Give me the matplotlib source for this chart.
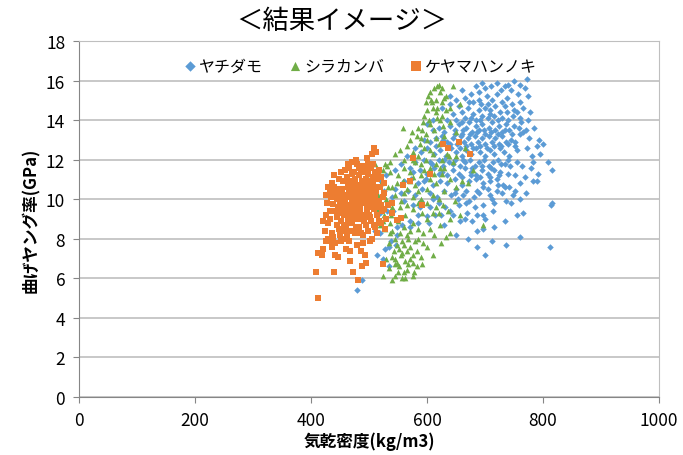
import matplotlib
matplotlib.use('Agg')
import matplotlib.pyplot as plt
import numpy as np

plt.rcParams['font.family'] = ['Noto Sans CJK JP', 'DejaVu Sans']

# (気乾密度 kg/m3, 曲げヤング率 GPa)
yachidamo = [
    (479, 5.4), (488, 5.9), (514, 7.2), (524, 7.0), (535, 6.6), (528, 7.5), (535, 7.6), (547, 7.7),
    (538, 7.9), (548, 8.2), (557, 8.7), (571, 8.9), (603, 8.8), (614, 9.2), (624, 9.2), (640, 9.4),
    (648, 10.3), (588, 9.6), (576, 9.7), (541, 9.4), (531, 9.4), (519, 9.3), (510, 8.4), (519, 8.3),
    (548, 8.6), (571, 8.6), (584, 8.8), (600, 9.15), (631, 9.6), (645, 9.2), (657, 8.9), (678, 8.9),
    (686, 9.2), (686, 8.4), (696, 8.5), (716, 8.6), (686, 7.6), (712, 7.9), (736, 7.7), (812, 7.6),
    (766, 9.3), (755, 9.2), (714, 9.4), (696, 9.2), (669, 9.3), (667, 9.8), (683, 9.6), (672, 9.9),
    (655, 9.7), (620, 9.8), (610, 10.0), (590, 9.9), (560, 9.9), (540, 10.1), (525, 10.4), (520, 10.9),
    (530, 11.2), (545, 11.5), (555, 11.8), (565, 12.2),
    (545, 10.5), (555, 10.3), (568, 10.4), (580, 10.2), (592, 10.5), (605, 10.3), (618, 10.1), (630, 10.4),
    (642, 10.2), (653, 10.0), (662, 10.2), (681, 10.1), (686, 10.4), (697, 10.6), (709, 10.2), (712, 10.0),
    (729, 10.3), (752, 10.4), (748, 10.2), (736, 9.9), (716, 9.8), (697, 9.7), (815, 9.8), (813, 9.7),
    (560, 10.9), (572, 11.0), (585, 10.8), (598, 11.0), (610, 10.7), (622, 10.9), (635, 10.8), (648, 11.0),
    (660, 10.7), (672, 10.9), (684, 11.0), (696, 10.8), (708, 10.9), (720, 11.0), (783, 10.9), (790, 10.9),
    (741, 10.6), (731, 10.7), (723, 10.7),
    (575, 11.4), (588, 11.5), (600, 11.3), (612, 11.6), (625, 11.4), (635, 11.2), (645, 11.5), (655, 11.3),
    (665, 11.6), (675, 11.4), (685, 11.2), (695, 11.5), (705, 11.3), (715, 11.5), (725, 11.4), (815, 11.5),
    (791, 11.3), (752, 11.2), (769, 11.1),
    (580, 11.9), (595, 12.0), (608, 11.8), (620, 12.0), (628, 11.7), (638, 11.9), (648, 12.0), (656, 11.7),
    (665, 11.9), (674, 12.0), (682, 11.7), (690, 11.9), (698, 12.0), (706, 11.7), (714, 11.9), (722, 12.0),
    (735, 11.8), (783, 11.9), (809, 11.9), (755, 11.9), (743, 11.7), (764, 11.7),
    (590, 12.4), (600, 12.6), (612, 12.3), (622, 12.5), (632, 12.2), (642, 12.6), (650, 12.4), (660, 12.2),
    (668, 12.5), (676, 12.3), (685, 12.6), (692, 12.4), (700, 12.2), (708, 12.5), (716, 12.3), (725, 12.6),
    (733, 12.4), (742, 12.2), (781, 12.2), (755, 12.5),
    (595, 13.0), (605, 12.9), (615, 13.1), (625, 13.2), (635, 12.9), (645, 13.1), (652, 12.8), (658, 13.2),
    (664, 12.9), (670, 13.1), (676, 12.8), (682, 13.2), (688, 12.9), (694, 13.1), (700, 12.8), (706, 13.2),
    (712, 12.9), (718, 13.1), (724, 12.8), (730, 13.2), (736, 12.9), (745, 13.0), (760, 13.3), (776, 13.1),
    (793, 13.0), (752, 12.9), (772, 12.6), (790, 12.7),
    (620, 13.6), (630, 13.4), (640, 13.7), (648, 13.5), (655, 13.8), (660, 13.3), (668, 13.6), (672, 13.9),
    (678, 13.4), (684, 13.7), (690, 13.5), (695, 13.8), (700, 13.3), (706, 13.6), (712, 13.9), (718, 13.5),
    (724, 13.7), (730, 13.4), (736, 13.8), (742, 13.5), (750, 13.7), (758, 13.6), (765, 13.4), (610, 13.5),
    (600, 13.8),
    (717, 14.7), (709, 14.5), (766, 14.6), (738, 14.4), (748, 14.2), (774, 14.0), (660, 14.4), (670, 14.6),
    (680, 14.3), (690, 14.5), (695, 14.2), (700, 14.6), (725, 14.4), (730, 14.1), (755, 14.4), (645, 14.3),
    (635, 14.0), (650, 14.0), (665, 14.1), (685, 14.0), (705, 14.1), (715, 14.2), (740, 14.0), (760, 14.1),
    (703, 15.2), (720, 15.3), (774, 15.2), (729, 14.9), (747, 14.8), (760, 14.9), (690, 15.0), (680, 14.9),
    (665, 15.1), (655, 14.7), (712, 15.0), (738, 15.1),
    (710, 15.7), (734, 15.7), (740, 15.8), (760, 15.8), (769, 15.6), (772, 16.1), (745, 15.5), (700, 15.6),
    (690, 15.4),
    (640, 12.8), (648, 13.3), (656, 12.6), (662, 13.5), (668, 12.7), (674, 13.3), (680, 12.6), (686, 13.4),
    (692, 12.7), (698, 13.5), (704, 12.6), (710, 13.4), (716, 12.7), (722, 13.3), (728, 12.7), (734, 13.5),
    (740, 12.8), (746, 13.3), (752, 12.7), (640, 14.8), (650, 15.0), (675, 15.3), (685, 15.7), (695, 15.9),
    (720, 15.9), (750, 16.0), (757, 15.3), (728, 15.5), (705, 14.8), (693, 14.8), (672, 14.9), (660, 13.9),
    (676, 14.1), (692, 14.0), (708, 14.3), (722, 14.0), (735, 14.7), (750, 14.5), (762, 13.9), (770, 13.5),
    (630, 12.0), (645, 11.8), (662, 12.0), (678, 11.6), (694, 11.7), (710, 11.6), (727, 11.8), (740, 12.0),
    (660, 11.1), (676, 11.2), (692, 11.1), (708, 11.1), (724, 11.2), (740, 11.3), (650, 10.5), (668, 10.4),
    (690, 10.3), (705, 10.5), (720, 10.4), (735, 10.6), (760, 10.8), (770, 10.3), (780, 11.6), (795, 12.3),
    (800, 12.8), (785, 13.6), (778, 14.4), (620, 11.3), (605, 11.9), (615, 12.7), (628, 13.0), (610, 14.0),
    (625, 14.6), (640, 15.2), (660, 15.5), (580, 12.6), (570, 11.6), (595, 10.9), (605, 9.6), (585, 9.2),
    (630, 8.7), (650, 8.2), (670, 8.0), (700, 7.2), (760, 8.1), (735, 8.9), (745, 9.8), (760, 10.0),
    (700, 9.0), (665, 9.0),
]

shirakanba = [
    (621, 15.8), (617, 15.7), (645, 15.7), (605, 15.4), (622, 15.4), (602, 15.2), (607, 15.0), (615, 15.0),
    (626, 14.9), (598, 14.9), (600, 14.5), (610, 14.6), (657, 14.8), (640, 14.6), (633, 14.5), (626, 14.2),
    (622, 14.0), (617, 14.1), (593, 13.9), (605, 13.8), (591, 13.5), (574, 13.4), (558, 13.6), (582, 13.2),
    (612, 13.5), (628, 13.7), (640, 13.9), (650, 13.4), (600, 13.0), (588, 12.8), (565, 12.7), (553, 12.5),
    (575, 12.4), (595, 12.6), (610, 12.3), (620, 12.8), (635, 12.3), (545, 12.3), (560, 12.0), (580, 11.9),
    (598, 12.0), (615, 11.8), (630, 11.6), (645, 11.9), (531, 11.7), (536, 11.9), (524, 11.5), (516, 11.5),
    (550, 11.2), (570, 11.4), (590, 11.2), (605, 11.0), (625, 11.3), (640, 11.0), (559, 10.9), (580, 10.7),
    (600, 10.5), (615, 10.8), (650, 10.6), (540, 10.6), (520, 10.8), (528, 11.8), (536, 11.4), (516, 10.2),
    (514, 9.5), (530, 10.0), (545, 10.2), (560, 10.3), (575, 10.1), (590, 10.0), (610, 10.2), (630, 10.4),
    (648, 9.9), (628, 9.7), (636, 9.4), (610, 9.3), (591, 9.3), (562, 9.2), (553, 9.6), (575, 9.5),
    (540, 9.6), (525, 9.2), (536, 8.8), (524, 8.9), (519, 8.7), (528, 8.5), (536, 8.3), (540, 8.4),
    (553, 8.3), (571, 8.4), (584, 8.5), (593, 8.3), (605, 8.5), (622, 8.7), (640, 8.3), (633, 8.1),
    (624, 7.8), (593, 7.8), (567, 8.0), (557, 7.9), (548, 7.7), (543, 7.4), (540, 7.1), (545, 7.0),
    (548, 6.8), (552, 6.6), (562, 6.9), (565, 7.4), (571, 7.6), (583, 7.4), (591, 6.7), (578, 6.3),
    (565, 6.4), (576, 6.1), (562, 6.0), (545, 6.1), (524, 6.1), (540, 5.9), (557, 6.0), (555, 7.2),
    (560, 7.7), (570, 7.0), (575, 6.8), (580, 7.9), (560, 8.6), (600, 9.0), (615, 9.6), (660, 10.9),
    (670, 10.8), (665, 12.6), (680, 11.5), (656, 9.2), (600, 7.6), (610, 7.2), (697, 8.7), (505, 10.5),
    (498, 9.8), (500, 10.9), (510, 11.8), (500, 11.3), (585, 12.2), (605, 12.5), (625, 12.0), (595, 11.5),
    (612, 11.3), (570, 10.9), (585, 10.4), (600, 9.8), (620, 10.0), (565, 9.7), (550, 9.0), (545, 8.0),
    (557, 7.3), (565, 8.2), (535, 6.5), (550, 6.3), (568, 6.7), (590, 13.1), (615, 14.4), (630, 15.1),
    (595, 14.2), (608, 14.9), (612, 15.6), (625, 15.6), (632, 15.2), (618, 14.6), (603, 14.0), (585, 13.6),
    (570, 13.0), (598, 13.3), (615, 13.1), (630, 13.2), (575, 12.0), (590, 11.8), (605, 11.6), (622, 11.6),
    (638, 12.2), (650, 12.2), (560, 11.6), (575, 11.1), (548, 10.8), (565, 10.5), (532, 10.6), (555, 9.9),
    (585, 9.8), (620, 9.3), (640, 9.0), (612, 8.2), (585, 8.0), (575, 8.8), (550, 8.9), (535, 7.8),
    (530, 7.0), (552, 7.5), (575, 7.2), (590, 7.1), (560, 6.3), (583, 6.6), (545, 6.7), (538, 9.2),
]

keyamahannoki = [
    (412, 5.0), (408, 6.3), (440, 6.3), (481, 5.9), (473, 6.3), (467, 6.9), (488, 6.6), (494, 6.8),
    (493, 7.2), (486, 7.4), (467, 7.4), (441, 7.2), (447, 7.1), (412, 7.3), (419, 7.2), (421, 7.5),
    (436, 7.6), (436, 7.8), (441, 7.8), (460, 7.5), (466, 7.9), (479, 7.7), (490, 7.8), (502, 7.9),
    (437, 8.3), (438, 8.1), (458, 8.0), (466, 8.4), (487, 8.3), (490, 8.2), (514, 8.3), (420, 8.9),
    (430, 8.8), (445, 8.7), (452, 8.9), (460, 8.6), (470, 8.8), (478, 8.6), (495, 8.7), (503, 8.9),
    (510, 8.6), (520, 8.8), (528, 8.5), (426, 9.2), (433, 9.4), (436, 9.4), (444, 9.1), (450, 9.3),
    (456, 9.5), (462, 9.2), (468, 9.4), (474, 9.1), (480, 9.3), (485, 9.6), (490, 9.2), (496, 9.4),
    (502, 9.1), (508, 9.5), (514, 9.2), (522, 9.4), (530, 9.0), (540, 9.3), (428, 9.8), (438, 9.75),
    (444, 10.0), (450, 9.75), (455, 9.9), (461, 10.1), (466, 9.7), (471, 10.0), (476, 9.8), (481, 10.2),
    (486, 9.9), (491, 10.1), (496, 9.7), (501, 10.0), (506, 9.8), (511, 10.2), (517, 9.9), (524, 10.1),
    (532, 9.7), (432, 10.4), (440, 10.6), (447, 10.3), (453, 10.5), (458, 10.2), (464, 10.6), (470, 10.3),
    (473, 10.4), (478, 10.7), (484, 10.7), (489, 10.4), (494, 10.6), (499, 10.3), (505, 10.5), (512, 10.4),
    (519, 10.6), (526, 10.3), (448, 11.0), (455, 10.9), (462, 11.1), (470, 10.9), (476, 11.0), (482, 11.2),
    (488, 10.9), (496, 10.9), (507, 10.8), (513, 11.0), (520, 11.1), (458, 11.5), (466, 11.6), (474, 11.4),
    (486, 11.4), (490, 11.4), (499, 11.3), (510, 11.4), (518, 11.5), (488, 11.7), (499, 11.8), (507, 11.8),
    (496, 12.1), (505, 12.3), (512, 12.4), (509, 12.6), (478, 12.0), (424, 8.4), (430, 8.0), (426, 7.9),
    (452, 7.9), (455, 8.4), (448, 8.5), (462, 9.6), (470, 9.5), (478, 9.9), (484, 9.4), (492, 9.8),
    (498, 10.2), (504, 9.6), (488, 10.3), (476, 10.4), (468, 10.1), (458, 9.9), (452, 10.2), (480, 9.0),
    (500, 9.2), (510, 9.9), (515, 10.6), (494, 11.0), (486, 10.5), (472, 9.2), (464, 8.9), (457, 9.2),
    (447, 9.6), (441, 10.3), (435, 10.1), (456, 8.7), (450, 8.2), (462, 8.2), (475, 8.3), (483, 8.6),
    (498, 8.4), (505, 8.0), (520, 9.7), (525, 10.8), (516, 11.2), (503, 11.6), (495, 11.6), (480, 11.8),
    (470, 11.3), (463, 11.8),
    (465, 10.4), (472, 10.7), (480, 10.5), (490, 10.0), (495, 9.2), (485, 9.0), (475, 9.6), (467, 9.0),
    (460, 9.4), (453, 9.7), (445, 10.5), (437, 10.8), (460, 10.9), (470, 11.9), (483, 11.6), (500, 10.7),
    (509, 10.2), (515, 9.6), (525, 9.5), (518, 8.9), (508, 8.7), (492, 8.9), (470, 8.4), (445, 9.4),
    (433, 9.0), (426, 10.2), (430, 10.6), (440, 11.2), (452, 11.4), (506, 11.1),
    (655, 12.9), (628, 12.8), (636, 12.6), (674, 12.3), (576, 12.1), (605, 11.3), (571, 10.9), (591, 9.7),
    (559, 10.7), (555, 9.05), (548, 8.95), (524, 6.7), (540, 9.8),
]

series_names = ['ヤチダモ', 'シラカンバ', 'ケヤマハンノキ']
series_data = [yachidamo, shirakanba, keyamahannoki]
colors = ['#5B9BD5', '#70AD47', '#ED7D31']
markers = ['D', '^', 's']
sizes = [11, 17, 19]

fig = plt.figure(figsize=(6.83, 4.56), dpi=100)
ax = fig.add_axes([0.1157, 0.1272, 0.8492, 0.7807])

for name, data, c, m, s in zip(series_names, series_data, colors, markers, sizes):
    xs, ys = zip(*data)
    ax.scatter(xs, ys, s=s, marker=m, color=c, linewidths=0, label=name, zorder=3)

ax.set_xlim(0, 1000)
ax.set_ylim(0, 18)
ax.set_xticks(np.arange(0, 1001, 200))
ax.set_yticks(np.arange(0, 19, 2))
ax.grid(True, axis='y', color='#BFBFBF', linewidth=1.2, zorder=0)
ax.set_axisbelow(True)
for side in ['top', 'right']:
    ax.spines[side].set_color('#BFBFBF')
for side in ['left', 'bottom']:
    ax.spines[side].set_color('#868686')
ax.tick_params(axis='both', direction='out', length=4, color='#868686',
               labelsize=12.5, pad=6)

ax.set_xlabel('気乾密度(kg/m3)', fontsize=12, fontweight='bold', labelpad=2)
ax.set_ylabel('曲げヤング率(GPa)', fontsize=12, fontweight='bold', labelpad=4)

fig.text(0.5, 0.953, '＜結果イメージ＞', ha='center', va='center', fontsize=19)

leg = ax.legend(loc='upper center', bbox_to_anchor=(0.485, 0.985), ncol=3, frameon=False,
                fontsize=11.5, handlelength=0.8, handletextpad=0.15, columnspacing=1.6,
                markerscale=1.6, borderaxespad=0.3)

fig.savefig('out.png', dpi=100)
